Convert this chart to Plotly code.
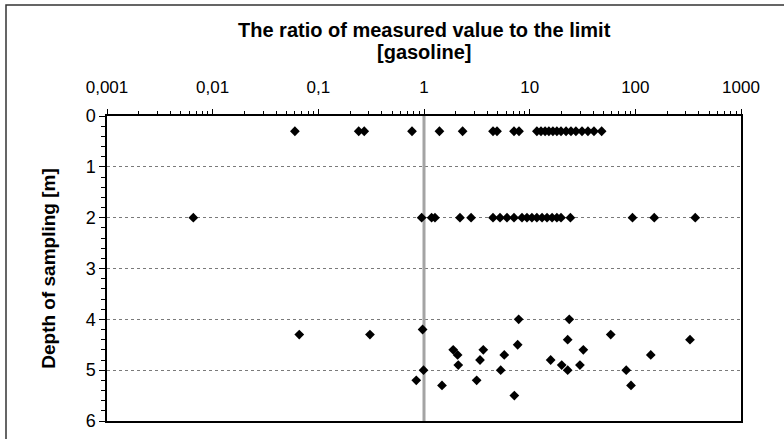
import plotly.graph_objects as go

# ratio values (measured / limit) and depths [m]
ratio_03 = [0.060, 0.241, 0.272, 0.77, 1.40, 2.32, 4.50, 4.91, 7.11, 7.93,
            11.7, 12.8, 14.0, 15.2, 16.6, 18.1, 19.8, 22.1, 24.6, 27.4,
            31.3, 35.6, 40.6, 48.0]
depth_03 = [0.3] * len(ratio_03)

ratio_2 = [0.00656, 0.95, 1.18, 1.27, 2.19, 2.79, 4.50, 5.24, 6.10, 7.11,
           8.46, 9.43, 10.5, 11.7, 13.1, 14.6, 16.3, 18.1, 19.8, 24.3,
           94, 151, 369]
depth_2 = [2.0] * len(ratio_2)

ratio_deep = [0.066, 0.308, 0.97, 0.99, 0.845, 1.48, 1.89, 2.08, 2.11, 3.15,
              3.39, 3.64, 5.32, 5.75, 7.16, 7.70, 7.87, 15.8, 20.1, 22.9,
              22.9, 23.7, 29.9, 32.2, 58.5, 82, 91, 140, 329]
depth_deep = [4.3, 4.3, 4.2, 5.0, 5.2, 5.3, 4.6, 4.7, 4.9, 5.2,
              4.8, 4.6, 5.0, 4.7, 5.5, 4.5, 4.0, 4.8, 4.9, 5.0,
              4.4, 4.0, 4.9, 4.6, 4.3, 5.0, 5.3, 4.7, 4.4]

limit_x = [1, 1]
limit_y = [0, 6]

x_tickvals = [0.001, 0.01, 0.1, 1, 10, 100, 1000]
x_ticktext = ["0,001", "0,01", "0,1", "1", "10", "100", "1000"]
y_tickvals = [0, 1, 2, 3, 4, 5, 6]

title_lines = ["The ratio of measured value to the limit", "[gasoline]"]

x_minor = [m * d for d in x_tickvals[:-1] for m in range(2, 10)]

xs = ratio_03 + ratio_2 + ratio_deep
ys = depth_03 + depth_2 + depth_deep

FONT = "Liberation Sans Narrow, Arial Narrow, Liberation Sans, sans-serif"
L, R, T, B = 107, 741, 116, 421
W, H = 784, 439

fig = go.Figure()
fig.add_trace(go.Scatter(x=limit_x, y=limit_y, mode="lines",
                         line=dict(color="#a4a4a4", width=3),
                         hoverinfo="skip", showlegend=False))
fig.add_trace(go.Scatter(x=xs, y=ys, mode="markers",
                         marker=dict(symbol="diamond", size=7.5, color="black"),
                         showlegend=False))

fig.update_layout(
    width=W, height=H,
    margin=dict(l=L, r=W - R, t=T, b=H - B),
    paper_bgcolor="white", plot_bgcolor="white",
    font=dict(family=FONT, color="black", size=17),
    showlegend=False,
)

for i, (txt, py) in enumerate(zip(title_lines, [30, 52])):
    fig.add_annotation(text="<b>" + txt + "</b>", xref="paper", yref="paper",
                       x=0.5, y=(B - py) / (B - T), xanchor="center",
                       yanchor="middle", showarrow=False, font=dict(size=20))

fig.update_xaxes(
    type="log", side="top", range=[-3, 3], automargin=False,
    tickmode="array", tickvals=x_tickvals, ticktext=x_ticktext,
    ticks="outside", ticklen=5, tickcolor="black", tickwidth=1,
    ticklabelstandoff=9,
    minor=dict(tickmode="array", tickvals=x_minor, ticks="outside",
               ticklen=3, tickcolor="black", showgrid=False),
    showgrid=False, showline=True, linecolor="black", linewidth=1.5,
    mirror=True, zeroline=False, tickfont=dict(size=17),
)
fig.update_yaxes(
    range=[6, 0], tickmode="array", tickvals=y_tickvals, automargin=False,
    ticks="outside", ticklen=6, tickcolor="black",
    minor=dict(dtick=0.2, ticks="outside", ticklen=4, tickcolor="black",
               showgrid=False),
    showgrid=True, gridcolor="#7a7a7a", griddash="dot", gridwidth=1,
    showline=True, linecolor="black", linewidth=1.5, mirror=True,
    zeroline=False, tickfont=dict(size=18),
    title=dict(text="<b>Depth of sampling [m]</b>", font=dict(size=19), standoff=25),
)

# outer chart border (top and left visible)
fig.add_shape(type="rect", xref="paper", yref="paper",
              x0=(6 - L) / (R - L), x1=(800 - L) / (R - L),
              y0=(B - 450) / (B - T), y1=(B - 5) / (B - T),
              line=dict(color="#333333", width=1.5), layer="below")

fig.write_html("out.html", config={"displayModeBar": False},
               post_script="document.body.style.margin='0';")
